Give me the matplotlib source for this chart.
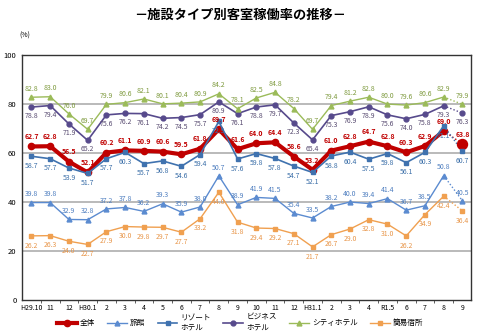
import matplotlib
matplotlib.use('Agg')
import matplotlib.pyplot as plt
from matplotlib.ticker import FixedLocator

plt.rcParams['font.family'] = ['Noto Sans CJK JP', 'DejaVu Sans']

# ---------------------------------------------------------------------------
# DATA
# ---------------------------------------------------------------------------
months = ['H29.10', '11', '12', 'H30.1', '2', '3', '4', '5', '6', '7', '8', '9',
          '10', '11', '12', 'H31.1', '2', '3', '4', 'R1.5', '6', '7', '8', '9']

city     = [82.8, 83.0, 76.0, 69.7, 79.9, 80.6, 82.1, 80.1, 80.4, 80.9, 84.2, 78.1,
            82.5, 84.8, 78.2, 69.7, 79.4, 81.2, 82.8, 80.0, 79.6, 80.6, 82.9, 79.9]
business = [78.8, 79.4, 71.9, 65.2, 75.6, 76.2, 76.1, 74.2, 74.5, 75.7, 80.9, 76.1,
            78.8, 79.7, 72.3, 65.4, 75.3, 76.9, 78.9, 75.6, 74.0, 75.8, 79.3, 76.3]
total    = [62.7, 62.8, 56.5, 52.1, 60.2, 61.1, 60.9, 60.6, 59.5, 61.8, 69.7, 61.6,
            64.0, 64.4, 58.6, 53.2, 61.0, 62.8, 64.7, 62.8, 60.3, 62.9, 69.0, 63.8]
resort   = [58.7, 57.7, 53.9, 51.7, 57.7, 60.3, 55.7, 56.8, 54.6, 59.4, 72.9, 57.6,
            59.8, 57.8, 54.7, 52.1, 58.8, 60.4, 57.5, 59.8, 56.1, 60.3, 71.1, 60.7]
ryokan   = [39.8, 39.8, 32.9, 32.8, 37.2, 37.8, 36.2, 39.3, 35.9, 38.0, 50.7, 38.9,
            41.9, 41.5, 35.4, 33.5, 38.2, 40.0, 39.4, 41.4, 36.7, 38.5, 50.8, 40.5]
simple   = [26.2, 26.3, 24.0, 22.7, 27.9, 30.0, 29.8, 29.7, 27.7, 33.2, 44.0, 31.8,
            29.4, 29.2, 27.1, 21.7, 26.7, 29.0, 32.8, 31.0, 26.2, 34.9, 42.4, 36.4]

# (label, values, line colour, label colour, marker, linewidth, markersize, label offset pt, bold)
series = [
    ('全体',           total,    '#C00000', '#C00000', 'o', 3.0, 4.5,  7, True),
    ('旅館',           ryokan,   '#5B8BD0', '#4F7FC0', '^', 1.0, 3.5,  6, False),
    ('リゾート\nホテル', resort,   '#3F72AF', '#3A6EA8', 's', 1.2, 3.5, -7, False),
    ('ビジネス\nホテル', business, '#574A8C', '#574A70', 'o', 1.2, 3.5, -6.5, False),
    ('シティホテル',     city,     '#9BBB59', '#7E9A3E', '^', 1.0, 3.5,  6, False),
    ('簡易宿所',        simple,   '#F0A050', '#E8964A', 's', 1.0, 3.5, -7, False),
]

x = list(range(len(months)))

fig = plt.figure(figsize=(4.8, 3.36), dpi=100)
ax = fig.add_axes([0.046, 0.107, 0.935, 0.729])

handles = []
for name, vals, col, tcol, mk, lw, ms, off, bold in series:
    # confirmed months: solid; latest month (preliminary): dotted
    h, = ax.plot(x[:-1], vals[:-1], color=col, lw=lw, marker=mk, ms=ms, zorder=3)
    ax.plot(x[-2:], vals[-2:], color=col, lw=1.0, ls=(0, (1, 1.5)), zorder=3)
    last_ms = ms * 1.6 if name == '全体' else ms
    ax.plot(x[-1], vals[-1], color=col, marker=mk, ms=last_ms, zorder=4)
    handles.append(h)
    for xi, v in zip(x, vals):
        ax.annotate(f'{v:.1f}', (xi, v), xytext=(0, off), textcoords='offset points',
                    ha='center', va='center', fontsize=5, color=tcol,
                    fontweight='bold' if bold else 'normal', zorder=5)

ax.set_xlim(-0.5, 23.45)
ax.set_ylim(0, 100)
ax.set_yticks([0, 20, 40, 60, 80, 100])
ax.tick_params(axis='y', length=0, labelsize=5.5, pad=4)
ax.set_xticks(x)
ax.set_xticklabels(months, fontsize=5)
ax.tick_params(axis='x', which='major', length=0, pad=3)
ax.xaxis.set_minor_locator(FixedLocator([i + 0.5 for i in x[:-1]]))
ax.tick_params(axis='x', which='minor', length=2, direction='out', color='#444444')

for yv in [20, 40, 60, 80]:
    ax.axhline(yv, color='#B4B4B4', lw=1.3, zorder=1)
for s in ax.spines.values():
    s.set_color('#333333')
    s.set_linewidth(1.0)

fig.text(0.5, 0.955, '－施設タイプ別客室稼働率の推移－', ha='center', va='center',
         fontsize=9.5, fontweight='bold')
fig.text(0.04, 0.895, '(%)', ha='left', va='center', fontsize=5)

fig.legend(handles, [s[0] for s in series], loc='upper center', ncol=6,
           bbox_to_anchor=(0.5, 0.075), fontsize=5.5, frameon=False,
           handlelength=2.6, columnspacing=1.6, handletextpad=0.4,
           borderaxespad=0)

fig.savefig('out.png', dpi=100)
